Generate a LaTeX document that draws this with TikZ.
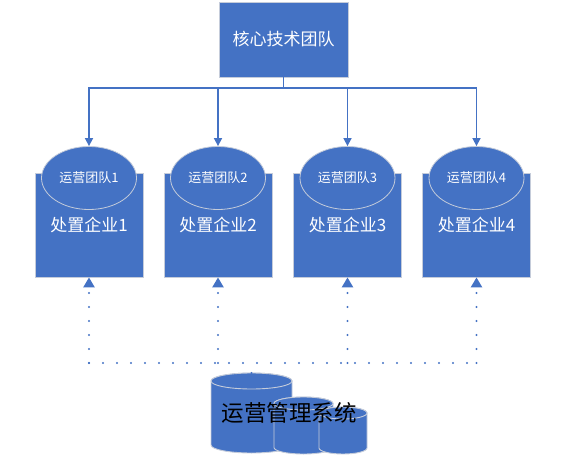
\documentclass[tikz,border=0pt]{standalone}
\usepackage{fontspec}
\setmainfont{Noto Sans CJK SC}
\usetikzlibrary{arrows.meta,shapes.geometric}
\definecolor{blu}{HTML}{4472C4}
\definecolor{edgec}{HTML}{C5CCDA}
\begin{document}
\begin{tikzpicture}[x=1pt,y=1pt,
  box/.style={fill=blu, draw=edgec, line width=0.8pt, inner sep=0pt, text=white},
  core/.style={box, minimum width=129pt, minimum height=75pt, font=\fontsize{17}{20}\selectfont},
  firm/.style={box, minimum width=108pt, minimum height=104pt, font=\fontsize{17}{20}\selectfont},
  oval/.style={ellipse, fill=blu, draw=edgec, line width=0.8pt, minimum width=95pt, minimum height=63pt, inner sep=0pt, text=white, font=\fontsize{13}{15}\selectfont},
  link/.style={draw=blu, line width=1.6pt, -{Triangle[width=8pt,length=8pt]}},
  dots/.style={draw=blu, line width=2.4pt, line cap=round, dash pattern=on 0pt off 14pt},
  uparrow/.style={dots, -{Triangle[width=11pt,length=10pt]}},
  cyl/.style={fill=blu, draw=edgec, line width=0.9pt},
  syslabel/.style={text=black, font=\fontsize{22.5}{26}\selectfont, inner sep=0pt}
]
\useasboundingbox (0,0) rectangle (565,459);

\node[core] (core) at (283.5,419.5) {核心技术团队};

\foreach \i/\x in {1/89,2/218,3/347.5,4/476.5}{
  \node[firm] (f\i) at (\x,234) {处置企业\i};
  \node[oval] (t\i) at (\x,281) {运营团队\i};
}

\coordinate (bus) at (283.5,371);
\foreach \i in {1,...,4}{
  \draw[link] (core.south) -- (core.south |- bus) -| (t\i.north);
}

% cylinders
\path[cyl] (211,78) -- (211,14) arc[start angle=180,end angle=360,x radius=40.5,y radius=8] -- (292,78) arc[start angle=0,end angle=180,x radius=40.5,y radius=8] -- cycle;
\draw[cyl] (251.5,78) ellipse[x radius=40.5,y radius=8];
\path[cyl] (274,55.5) -- (274,11.5) arc[start angle=180,end angle=360,x radius=29.5,y radius=6.5] -- (333,55.5) arc[start angle=0,end angle=180,x radius=29.5,y radius=6.5] -- cycle;
\draw[cyl] (303.5,55.5) ellipse[x radius=29.5,y radius=6.5];
\path[cyl] (319,46) -- (319,11) arc[start angle=180,end angle=360,x radius=24,y radius=6] -- (367,46) arc[start angle=0,end angle=180,x radius=24,y radius=6] -- cycle;
\draw[cyl] (343,46) ellipse[x radius=24,y radius=6];
\node[syslabel] (sys) at (289,46) {运营管理系统};
\coordinate (cyltop) at (251.5,86);

% dotted feedback
\coordinate (dbus) at (89,96);
\draw[dots] (f1.south |- dbus) -- (f4.south |- dbus);
\draw[dots] (cyltop) -- (cyltop |- dbus);
\foreach \i in {1,...,4}{
  \draw[uparrow] (f\i.south |- dbus) -- (f\i.south);
}
\end{tikzpicture}
\end{document}
